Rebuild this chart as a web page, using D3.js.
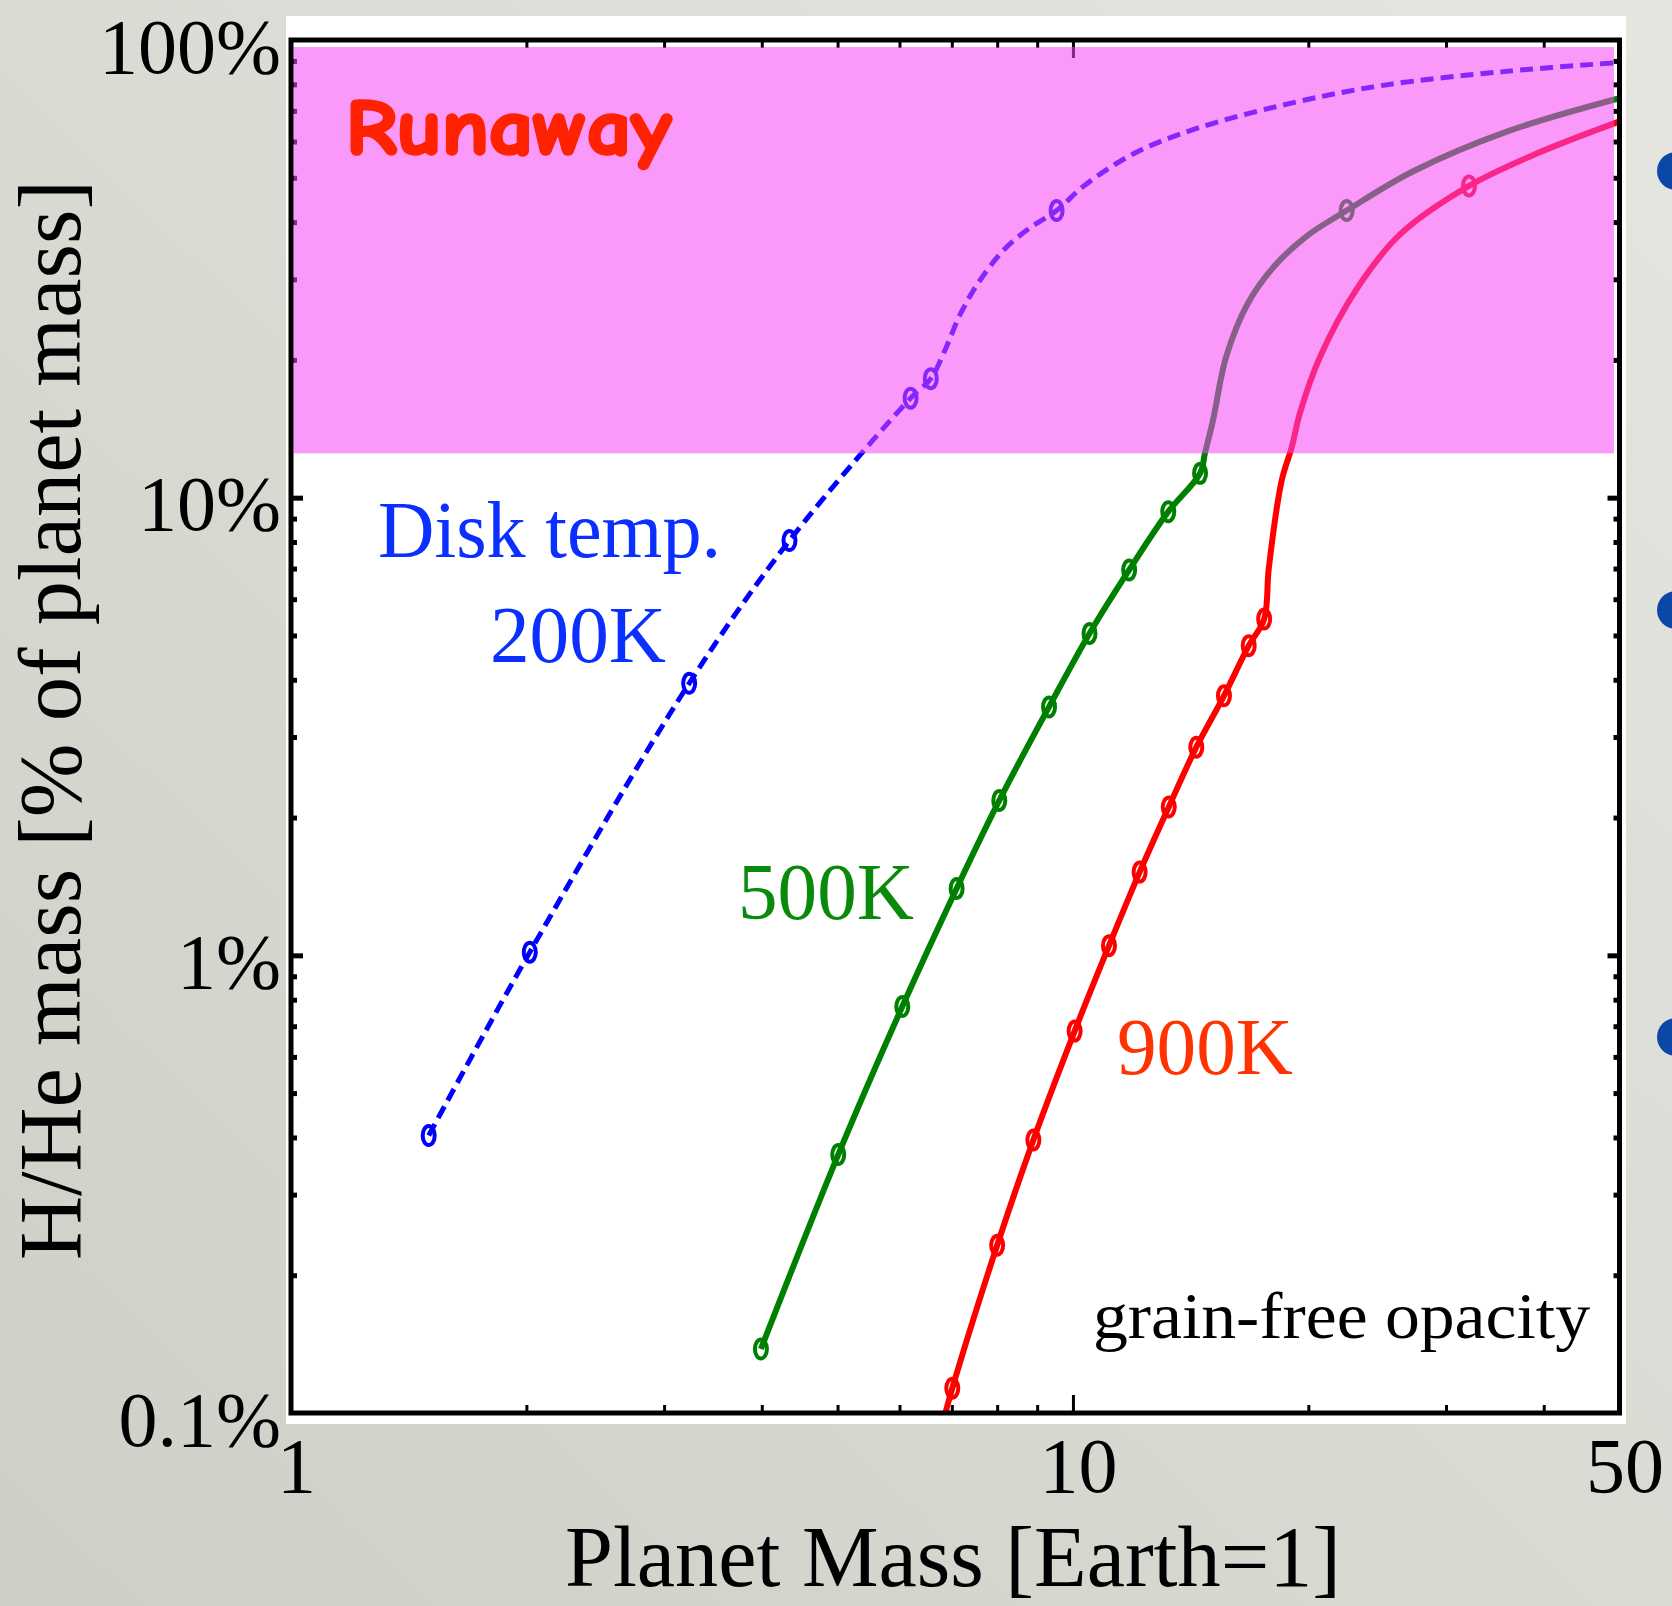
<!DOCTYPE html>
<html>
<head>
<meta charset="utf-8">
<script src="https://cdn.jsdelivr.net/npm/d3@7"></script>
<style>
  html, body { margin: 0; padding: 0; background: #d8d8d1; }
  svg { display: block; }
  .serif { font-family: "Palatino Linotype", Palatino, "Book Antiqua", "Liberation Serif", serif; }
</style>
</head>
<body>
<svg id="chart" width="1672" height="1606"></svg>
<script>
// axis values
const massTicks = [1, 10, 50];
const fracTicks = [0.1, 1, 10, 100];
const fracLabels = ["0.1%", "1%", "10%", "100%"];
const runawayBand = [12.5, 100];

// model points (open circles) and the rest of each curve, [mass, % H/He]
const disk200Points = [[1.50, 0.404], [2.02, 1.016], [3.23, 3.93], [4.34, 8.06], [6.20, 16.5], [6.58, 18.2], [9.53, 42.4]];
const disk200Curve = [[6.86, 21.0], [7.18, 25.2], [7.58, 29.6], [8.16, 34.8], [8.78, 38.7], [10.33, 48.0], [11.97, 56.5], [14.36, 64.0], [18.9, 72.6], [24.8, 79.5], [35.8, 85.4], [50, 89.3]];

const disk500Points = [[3.99, 0.138], [5.01, 0.367], [6.05, 0.773], [7.10, 1.40], [8.05, 2.18], [9.32, 3.49], [10.5, 5.05], [11.8, 6.95], [13.24, 9.32], [14.54, 11.3], [22.39, 42.4]];
const disk500Curve = [[14.75, 12.5], [15.11, 14.8], [15.70, 20.3], [16.72, 26.5], [18.08, 32.0], [19.87, 37.2], [27.2, 51.6], [35.8, 63.0], [50, 74.6]];

const disk900Points = [[7.01, 0.1133], [8.0, 0.2325], [8.90, 0.395], [10.05, 0.683], [11.12, 1.05], [12.17, 1.52], [13.26, 2.11], [14.38, 2.85], [15.6, 3.69], [16.78, 4.75], [17.56, 5.43], [32.1, 48.0]];
const disk900Curve = [[6.87, 0.1], [17.8, 7.0], [18.49, 10.9], [19.05, 12.9], [19.51, 15.3], [20.7, 20.3], [23.1, 28.7], [26.2, 37.6], [39.2, 56.5], [50, 66.4]];

const svg = d3.select("#chart");

const x = d3.scaleLog().domain([1, 50]).range([291, 1619.5]);
const y = d3.scaleLog().domain([0.1, 100]).range([1413, 40]);

// slide background
const defs = svg.append("defs");
const grad = defs.append("linearGradient").attr("id", "bg")
  .attr("x1", "100%").attr("y1", "0%").attr("x2", "0%").attr("y2", "100%");
grad.append("stop").attr("offset", "0%").attr("stop-color", "#e6e6e1");
grad.append("stop").attr("offset", "100%").attr("stop-color", "#cfcfc7");
svg.append("rect").attr("width", 1672).attr("height", 1606).attr("fill", "url(#bg)");

// bullets of the slide, cut by the edge
svg.selectAll(".bullet").data([171, 610, 1037]).enter().append("circle")
  .attr("cx", 1676).attr("cy", d => d).attr("r", 19).attr("fill", "#0b47a6");

// white panel behind the plot
svg.append("rect").attr("x", 286).attr("y", 16).attr("width", 1340).attr("height", 1408).attr("fill", "#fff");

defs.append("clipPath").attr("id", "plotclip").append("rect")
  .attr("x", x(1)).attr("y", y(100)).attr("width", x(50) - x(1)).attr("height", y(0.1) - y(100));

const series = [
  { points: disk200Points, curve: disk200Curve, color: "#0000ff", dash: "13,7", width: 5 },
  { points: disk500Points, curve: disk500Curve, color: "#008000", dash: null, width: 6 },
  { points: disk900Points, curve: disk900Curve, color: "#ff0000", dash: null, width: 6 },
];

const line = d3.line().x(d => x(d[0])).y(d => y(d[1])).curve(d3.curveCatmullRom.alpha(0.5));

const plot = svg.append("g").attr("clip-path", "url(#plotclip)");
series.forEach(s => {
  const all = s.points.concat(s.curve).sort((a, b) => a[0] - b[0]);
  plot.append("path").datum(all)
    .attr("d", line).attr("fill", "none")
    .attr("stroke", s.color).attr("stroke-width", s.width)
    .attr("stroke-dasharray", s.dash);
  plot.selectAll(null).data(s.points).enter().append("ellipse")
    .attr("cx", d => x(d[0])).attr("cy", d => y(d[1]))
    .attr("rx", 6).attr("ry", 9.5)
    .attr("fill", "none").attr("stroke", s.color).attr("stroke-width", 4);
});

// ticks, drawn inward on all four sides
const xMinor = x.ticks().filter(v => !massTicks.includes(v));
const yMinor = y.ticks().filter(v => !fracTicks.includes(v));
const yMajor = fracTicks.filter(v => v > 0.1 && v < 100);

function tickAxis(axis, vals, size, width, tx, ty) {
  const g = svg.append("g").attr("transform", `translate(${tx},${ty})`)
    .call(axis.tickValues(vals).tickSize(-size).tickFormat(""));
  g.select(".domain").remove();
  g.selectAll(".tick line").attr("stroke", "#000").attr("stroke-width", width);
  return g;
}
tickAxis(d3.axisBottom(x), xMinor, 8, 3, 0, y(0.1));
tickAxis(d3.axisBottom(x), [10], 18, 3, 0, y(0.1));
tickAxis(d3.axisTop(x), xMinor, 8, 3, 0, y(100));
tickAxis(d3.axisTop(x), [10], 18, 3, 0, y(100));
tickAxis(d3.axisLeft(y), yMinor, 6, 5, x(1), 0);
tickAxis(d3.axisLeft(y), yMajor, 12, 5, x(1), 0);
tickAxis(d3.axisRight(y), yMinor, 6, 5, x(50), 0);
tickAxis(d3.axisRight(y), yMajor, 12, 5, x(50), 0);

// runaway region, translucent over the curves
svg.append("rect")
  .attr("x", x(1) + 2.5).attr("y", y(runawayBand[1]) + 7)
  .attr("width", x(50) - x(1) - 8).attr("height", y(runawayBand[0]) - y(runawayBand[1]) - 7)
  .attr("fill", "#f545f5").attr("opacity", 0.55);

// frame
svg.append("rect").attr("x", x(1)).attr("y", y(100))
  .attr("width", x(50) - x(1)).attr("height", y(0.1) - y(100))
  .attr("fill", "none").attr("stroke", "#000").attr("stroke-width", 5);

// tick labels
const yLab = svg.append("g").attr("class", "serif").attr("transform", `translate(${x(1) - 10},0)`)
  .call(d3.axisLeft(y).tickValues(fracTicks).tickSize(0).tickFormat((d, i) => fracLabels[i]));
yLab.select(".domain").remove();
yLab.selectAll("text").attr("x", 0).attr("dy", null).attr("y", 32)
  .attr("font-size", 78).attr("fill", "#000").attr("font-family", null);

const xLab = svg.append("g").attr("class", "serif").attr("transform", `translate(5,${y(0.1)})`)
  .call(d3.axisBottom(x).tickValues(massTicks).tickSize(0).tickFormat(d3.format("d")));
xLab.select(".domain").remove();
xLab.selectAll("text").attr("dy", null).attr("y", 79)
  .attr("font-size", 78).attr("fill", "#000").attr("font-family", null);

// axis titles
svg.append("text").attr("class", "serif")
  .attr("x", 953).attr("y", 1586).attr("text-anchor", "middle")
  .attr("font-size", 86).attr("textLength", 776).attr("lengthAdjust", "spacingAndGlyphs")
  .text("Planet Mass [Earth=1]");
svg.append("text").attr("class", "serif")
  .attr("transform", "translate(80,720) rotate(-90)").attr("text-anchor", "middle")
  .attr("font-size", 88).attr("textLength", 1080).attr("lengthAdjust", "spacingAndGlyphs")
  .text("H/He mass [% of planet mass]");

// annotations
function note(txt, tx, ty, size, len, color, extra) {
  const t = svg.append("text").attr("class", "serif")
    .attr("x", tx).attr("y", ty).attr("font-size", size)
    .attr("textLength", len).attr("lengthAdjust", "spacingAndGlyphs")
    .attr("fill", color).text(txt);
  if (extra) extra(t);
  return t;
}
note("Runaway", 346, 154, 78, 325, "#ff2200", t => t.attr("class", null)
  .attr("font-family", "'Comic Sans MS', 'Comic Neue', Lato, 'Noto Sans', sans-serif")
  .attr("font-weight", "bold").attr("stroke", "#ff2200").attr("stroke-width", 3.5)
  .attr("stroke-linejoin", "round"));
note("Disk temp.", 378, 557, 80, 343, "#0a2fff");
note("200K", 490, 662, 80, 176, "#0a2fff");
note("500K", 738, 919, 80, 176, "#0a8a0a");
note("900K", 1117, 1074, 80, 176, "#ff3300");
note("grain-free opacity", 1093, 1338, 66, 497, "#000");
</script>
</body>
</html>
